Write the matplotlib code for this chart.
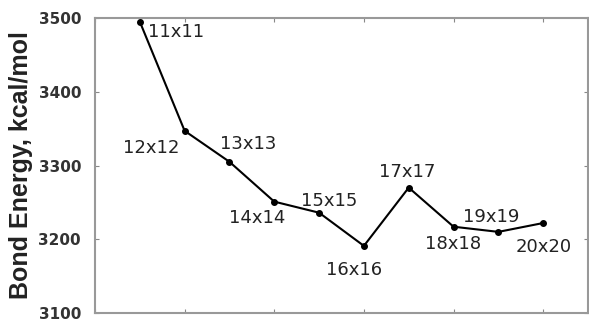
import matplotlib
matplotlib.use("Agg")
import matplotlib.pyplot as plt

grid_n = [11, 12, 13, 14, 15, 16, 17, 18, 19, 20]
labels = ["11x11", "12x12", "13x13", "14x14", "15x15", "16x16", "17x17", "18x18", "19x19", "20x20"]
energy = [3495, 3347, 3305, 3251, 3236, 3191, 3270, 3217, 3210, 3222]
y_ticks = [3100, 3200, 3300, 3400, 3500]

# label offsets in pixels (dx, dy), layout only
offsets = [(8, -10), (-33, -17), (19, 18), (-17, -16), (10, 12),
           (-10, -24), (-2, 16), (0, -17), (-7, 15), (1, -24)]

fig = plt.figure(figsize=(5.89, 3.22), dpi=100)
ax = fig.add_axes([95/589, 1-313/322, 493/589, 295/322])

ax.plot(grid_n, energy, color="black", lw=1.5, marker="o", ms=4, zorder=3)

for x, y, lab, (dx, dy) in zip(grid_n, energy, labels, offsets):
    ha = "left" if lab == "11x11" else "center"
    ax.annotate(lab, (x, y), xytext=(dx, dy), textcoords="offset pixels",
                ha=ha, va="center", fontsize=13, color="#222222",
                family="DejaVu Sans")

ax.set_xlim(10, 21)
ax.set_ylim(3100, 3500)
ax.set_xticks([10, 12, 14, 16, 18, 20])
ax.set_xticklabels([])
ax.set_yticks(y_ticks)
ax.set_yticklabels([str(v) for v in y_ticks], fontsize=11, fontweight="bold",
                   color="#333333", family="DejaVu Sans")
ax.tick_params(direction="in", length=3, color="#888888", top=True, right=True, pad=10)
for s in ax.spines.values():
    s.set_color("#999999")
    s.set_linewidth(1.5)

ax.set_ylabel("Bond Energy, kcal/mol", fontsize=18, fontweight="bold",
              family="Liberation Sans", color="#222222")
ax.yaxis.set_label_coords(-0.126, 0.5)

fig.savefig("out.png", dpi=100)
